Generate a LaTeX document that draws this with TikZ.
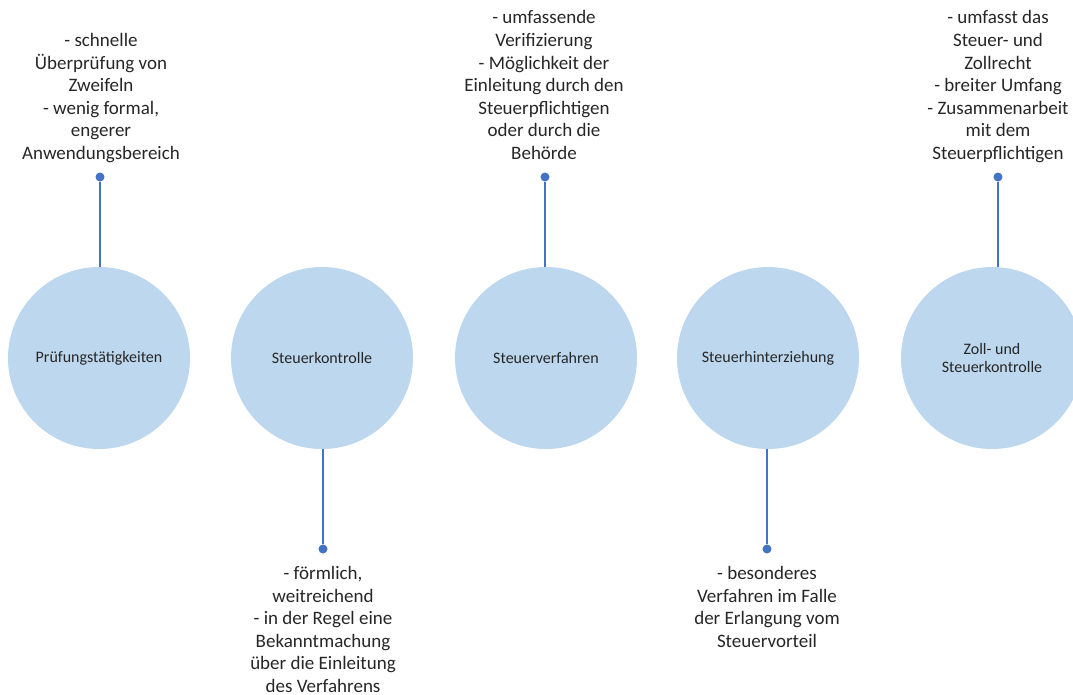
\documentclass[tikz,border=0pt]{standalone}
\usepackage{fontspec}
\setmainfont{Carlito}
\definecolor{circfill}{HTML}{BDD7EE}
\definecolor{linkblue}{HTML}{4472C4}
\tikzset{
	topic/.style={circle, fill=circfill, minimum size=182pt, inner sep=0pt, align=center, font=\fontsize{16}{18.5}\selectfont, text=black!85},
	note/.style={align=center, inner sep=0pt, font=\fontsize{19}{22.6}\selectfont, text=black!85},
	pin/.style={circle, fill=linkblue, inner sep=0pt, minimum size=9pt},
	link/.style={linkblue, line width=1.5pt}
}

\begin{document}
\begin{tikzpicture}[x=1pt, y=-1pt]
	\useasboundingbox (0,0) rectangle (1073,694);
	\node[topic] (Pruef) at (99,358) {Prüfungstätigkeiten};
	\node[topic] (Kontr) at (322,358) {Steuerkontrolle};
	\node[topic] (Verf) at (546,358) {Steuerverfahren};
	\node[topic] (Hinterz) at (768,358) {Steuerhinterziehung};
	\node[topic] (Zoll) at (992,358) {Zoll- und\\Steuerkontrolle};
	\node[pin] (PruefPin) at (100,177) {};
	\node[pin] (KontrPin) at (323,549) {};
	\node[pin] (VerfPin) at (545,177) {};
	\node[pin] (HinterzPin) at (767,549) {};
	\node[pin] (ZollPin) at (998,177) {};
	\node[note, anchor=south] (PruefNote) at (101,166.5) {- schnelle\\Überprüfung von\\Zweifeln\\- wenig formal,\\engerer\\Anwendungsbereich\strut};
	\node[note, anchor=north] (KontrNote) at (323,563.5) {\strut- förmlich,\\weitreichend\\- in der Regel eine\\Bekanntmachung\\über die Einleitung\\des Verfahrens};
	\node[note, anchor=south] (VerfNote) at (544,166.5) {- umfassende\\Verifizierung\\- Möglichkeit der\\Einleitung durch den\\Steuerpflichtigen\\oder durch die\\Behörde\strut};
	\node[note, anchor=north] (HinterzNote) at (767,563.5) {\strut- besonderes\\Verfahren im Falle\\der Erlangung vom\\Steuervorteil};
	\node[note, anchor=south] (ZollNote) at (998,166.5) {- umfasst das\\Steuer- und\\Zollrecht\\- breiter Umfang\\- Zusammenarbeit\\mit dem\\Steuerpflichtigen\strut};
	\draw[link] (PruefPin) -- (PruefPin |- Pruef.north);
	\draw[link] (KontrPin) -- (KontrPin |- Kontr.south);
	\draw[link] (VerfPin) -- (VerfPin |- Verf.north);
	\draw[link] (HinterzPin) -- (HinterzPin |- Hinterz.south);
	\draw[link] (ZollPin) -- (ZollPin |- Zoll.north);
\end{tikzpicture}
\end{document}
